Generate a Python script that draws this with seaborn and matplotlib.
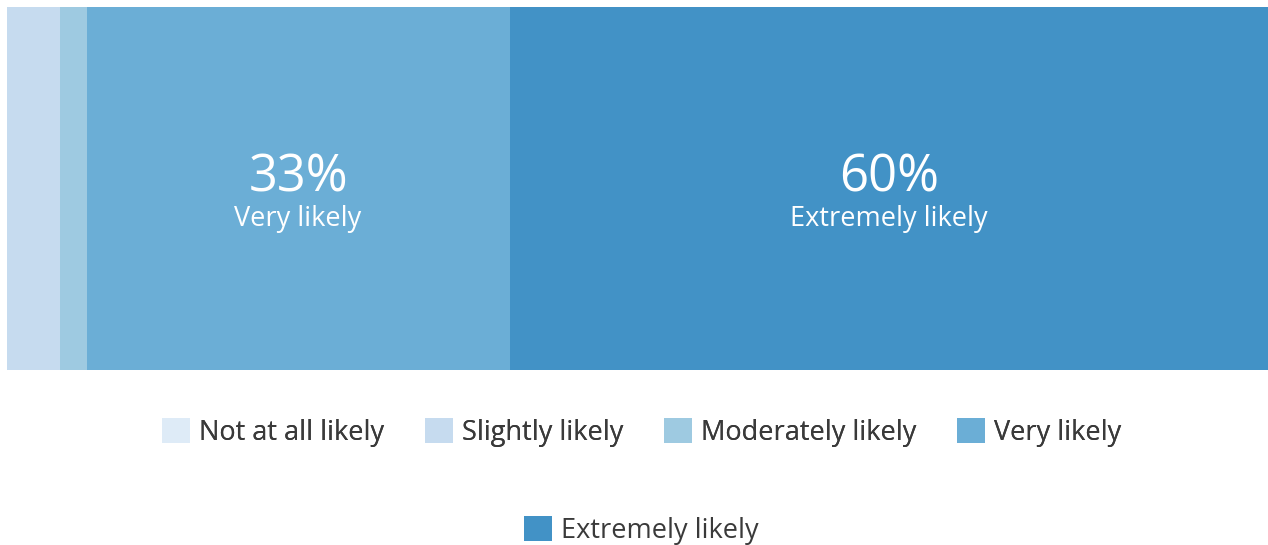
import matplotlib
matplotlib.use("Agg")
import matplotlib.pyplot as plt
import seaborn as sns
from matplotlib.patches import Patch

# 数据
categories = ["Not at all likely", "Slightly likely", "Moderately likely",
              "Very likely", "Extremely likely"]
percents = [0.0, 4.2, 2.1, 33.45, 60.0]
colors = ["#deebf7", "#c6dbef", "#9ecae1", "#6baed6", "#4292c6"]
shown = ["Very likely", "Extremely likely"]   # 在条形内标注的类别

sns.set_theme(style="white")
plt.rcParams["font.family"] = ["Open Sans", "DejaVu Sans"]

fig = plt.figure(figsize=(12.68, 5.45), dpi=100)
ax = fig.add_axes([7 / 1268, (545 - 370) / 545, 1 - 7 / 1268, 363 / 545])

# 累计宽度，从后往前画，前面的覆盖后面的
cum = []
total = 0
for p in percents:
    total += p
    cum.append(total)

for i in range(len(categories) - 1, -1, -1):
    sns.barplot(x=[cum[i]], y=["q"], color=colors[i], saturation=1,
                width=1, linewidth=0, ax=ax, orient="h")

ax.set_xlim(0, cum[-1])
ax.set_ylim(0.5, -0.5)
ax.axis("off")

# 条形内的标签
for i, name in enumerate(categories):
    if name in shown:
        mid = cum[i] - percents[i] / 2
        ax.text(mid, -0.03, f"{percents[i]:.0f}%", color="white", fontsize=36.5,
                ha="center", va="center")
        ax.text(mid, 0.083, name, color="white", fontsize=19.5,
                ha="center", va="center")

# 图例（两行，居中）
handles = [Patch(facecolor=c, edgecolor="none", label=n) for c, n in zip(colors, categories)]
leg_kw = dict(frameon=False, fontsize=19.5, handlelength=1.04, handleheight=1.04,
              handletextpad=0.33, columnspacing=1.5, labelcolor="#3a3a3a")
leg1 = fig.legend(handles=handles[:4], loc="center", bbox_to_anchor=(0.506, 0.207),
                  ncol=4, **leg_kw)
fig.add_artist(leg1)
fig.legend(handles=handles[4:], loc="center", bbox_to_anchor=(0.506, 0.027),
           ncol=1, **leg_kw)

fig.savefig("out.png", dpi=100)
